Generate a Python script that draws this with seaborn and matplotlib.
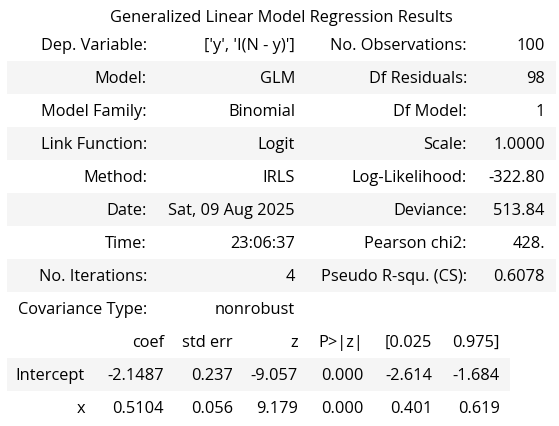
import matplotlib
matplotlib.use("Agg")
import matplotlib.pyplot as plt
import seaborn as sns

# 表格内容
title = "Generalized Linear Model Regression Results"

left_labels = ["Dep. Variable:", "Model:", "Model Family:", "Link Function:",
               "Method:", "Date:", "Time:", "No. Iterations:", "Covariance Type:"]
left_values = ["['y', 'I(N - y)']", "GLM", "Binomial", "Logit", "IRLS",
               "Sat, 09 Aug 2025", "23:06:37", "4", "nonrobust"]
right_labels = ["No. Observations:", "Df Residuals:", "Df Model:", "Scale:",
                "Log-Likelihood:", "Deviance:", "Pearson chi2:",
                "Pseudo R-squ. (CS):", ""]
right_values = ["100", "98", "1", "1.0000", "-322.80", "513.84", "428.",
                "0.6078", ""]

coef_header = ["", "coef", "std err", "z", "P>|z|", "[0.025", "0.975]"]
coef_rows = [
    ["Intercept", "-2.1487", "0.237", "-9.057", "0.000", "-2.614", "-1.684"],
    ["x", "0.5104", "0.056", "9.179", "0.000", "0.401", "0.619"],
]

sns.set_theme(style="white")
plt.rcParams['font.family'] = ['Open Sans', 'DejaVu Sans']

W, H = 559, 426
fig = plt.figure(figsize=(W / 100, H / 100), dpi=100)
ax = fig.add_axes([0, 0, 1, 1])
ax.set_xlim(0, W)
ax.set_ylim(H, 0)
ax.axis('off')

row_h = 33
top1 = 28
fs = 11.8
dy = 1.5  # 文字略微下移
stripe = '#f5f5f5'

# 标题
ax.text(281, 17 + dy, title, ha='center', va='center', fontsize=fs, color='black')

# 上表：条纹背景
cols1 = [147, 295, 467, 545]
for i in range(len(left_labels)):
    yc = top1 + row_h * (i + 0.5)
    if i % 2 == 1:
        ax.barh(yc, 549, left=7, height=row_h, color=stripe, linewidth=0)
    for x, txt in zip(cols1, [left_labels[i], left_values[i],
                              right_labels[i], right_values[i]]):
        ax.text(x, yc + dy, txt, ha='right', va='center', fontsize=fs,
                color='black')

# 系数表
top2 = top1 + row_h * len(left_labels)
cols2 = [85, 164, 233, 298, 363, 432, 500]
for x, txt in zip(cols2, coef_header):
    ax.text(x, top2 + row_h * 0.5 + dy, txt, ha='right', va='center',
            fontsize=fs, color='black')
for r, row in enumerate(coef_rows):
    yc = top2 + row_h * (r + 1.5)
    if r % 2 == 0:
        ax.barh(yc, 503, left=7, height=row_h, color=stripe, linewidth=0)
    for x, txt in zip(cols2, row):
        ax.text(x, yc + dy, txt, ha='right', va='center', fontsize=fs,
                color='black')

fig.savefig('out.png', dpi=100)
